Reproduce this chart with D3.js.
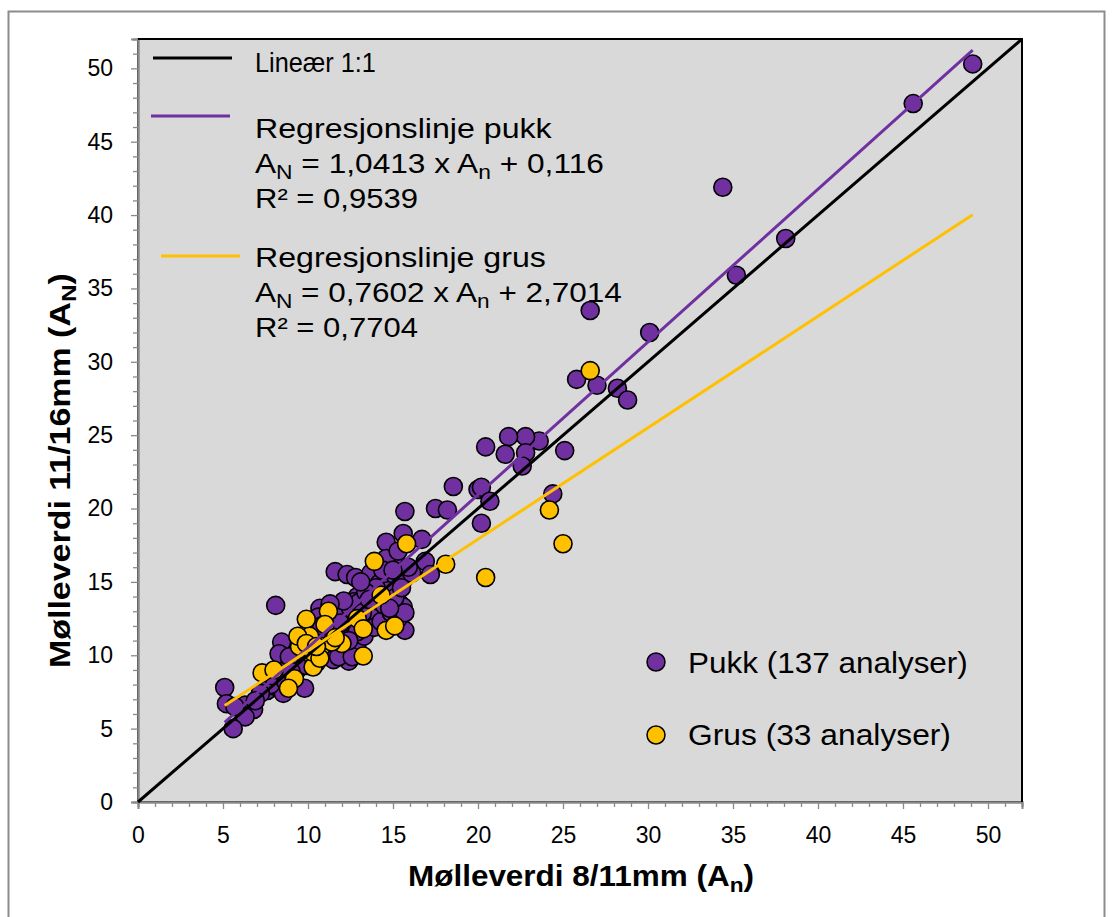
<!DOCTYPE html>
<html><head><meta charset="utf-8">
<script src="https://cdn.jsdelivr.net/npm/d3@7"></script>
<style>
html,body{margin:0;padding:0;background:#fff;}
svg{display:block;font-family:"Liberation Sans",Arial,sans-serif;}
</style></head>
<body>
<svg id="chart" width="1114" height="917"></svg>
<script>
// ---------- data ----------
const pukk = [
[49.1,50.3],[45.6,47.6],[34.4,41.9],[38.1,38.4],[35.2,35.9],[30.1,32.0],[26.6,33.5],
[25.8,28.8],[27.0,28.4],[28.2,28.2],[28.8,27.4],[25.1,23.95],[24.4,21.0],[23.6,24.6],
[22.8,24.9],[21.8,24.9],[20.45,24.2],[21.6,23.7],[22.8,23.8],[22.6,22.9],[18.55,21.5],
[20.0,21.3],[20.2,21.45],[20.7,20.5],[17.5,20.0],[18.2,19.9],[20.2,19.0],[16.7,17.9],
[16.9,16.4],[15.7,19.8],[14.6,17.7],[15.6,18.3],[17.2,15.5],[11.6,15.7],[12.3,15.5],
[12.8,15.3],[13.7,15.6],[15.2,16.3],[14.8,15.4],[15.6,15.1],[14.2,14.9],[15.2,14.2],
[13.6,14.0],[12.9,14.0],[11.9,13.3],[10.7,13.2],[15.4,13.5],[15.6,13.3],[14.0,13.3],
[13.25,13.1],[14.4,12.85],[15.7,11.7],[13.8,12.2],[12.5,10.6],[8.1,13.4],[8.45,10.9],
[8.3,10.1],[11.5,9.7],[12.4,9.6],[8.35,7.75],[9.8,7.75],[5.1,7.8],[5.2,6.7],[6.3,6.6],
[6.8,6.3],[6.3,5.8],[5.6,5.0],[7.6,7.6],[5.7,6.5],[8.0,7.9],[8.55,7.4],[9.3,8.9],
[12.7,13.65],[11.5,12.1],[8.5,8.9],[7.8,8.0],
[9.6,10.2],[10.0,11.0],[10.4,11.8],[10.6,12.6],[10.9,10.4],[11.2,11.4],[11.4,12.9],
[11.6,10.8],[11.8,11.9],[12.0,12.8],[12.2,10.2],[12.3,11.5],[12.5,13.2],[12.7,12.1],
[12.9,10.8],[13.0,13.6],[13.1,12.4],[13.3,11.3],[13.5,13.0],[13.7,12.6],[13.9,11.9],
[14.1,13.9],[14.3,12.3],[14.5,13.4],[14.7,14.4],[14.9,12.9],[15.1,13.9],[15.3,12.5],
[15.5,14.6],[15.7,12.9],[14.0,14.6],[13.4,14.3],[12.1,13.7],[11.3,13.5],[10.2,10.6],
[9.2,9.4],[8.9,9.9],[9.9,9.3],[10.5,9.5],[11.8,9.9],[12.6,9.9],[7.9,8.6],[7.2,7.4],
[8.7,8.2],[6.9,6.9],[9.0,8.9],[14.6,16.6],[15.3,17.1],[16.1,15.6],[13.2,12.9],[15.9,16.0],
[14.4,15.8],[13.1,15.0],[12.9,11.6],[10.8,12.0],[11.9,12.2],[13.6,13.8],[14.8,13.2],
[12.4,11.0],[9.7,10.8],[15.0,15.8]
];
const grus = [
[26.6,29.4],[24.2,19.9],[25.0,17.6],[20.45,15.3],[18.1,16.2],[15.8,17.6],[13.9,16.4],
[9.9,12.45],[11.2,13.0],[11.0,12.1],[12.9,12.5],[13.25,11.8],[14.6,11.7],[15.1,12.0],
[12.0,10.8],[13.25,9.95],[9.5,10.6],[10.3,9.9],[10.8,10.6],[10.1,11.3],[9.4,11.3],
[10.3,9.2],[7.3,8.8],[8.0,9.0],[9.2,8.4],[8.85,7.75],[10.3,10.2],[10.7,9.8],[11.4,10.9],
[9.9,10.8],[14.3,14.1],[11.6,11.2],[10.5,10.6]
];
const xTicks = [0,5,10,15,20,25,30,35,40,45,50];
const yTicks = [0,5,10,15,20,25,30,35,40,45,50];
const axisMax = 52;
const pukkFit = [1.0413, 0.116];   // slope, intercept
const grusFit = [0.7602, 2.7014];
const fitRange = [5.1, 49.1];
const legendLabels = ["Lineær 1:1","Regresjonslinje pukk","Regresjonslinje grus"];
const pointLabels = ["Pukk (137 analyser)","Grus (33 analyser)"];
const xTitle = "Mølleverdi 8/11mm (A", xSub = "n";
const yTitle = "Mølleverdi 11/16mm (A", ySub = "N";

// ---------- setup ----------
const PURPLE = "#7030a0", YELLOW = "#ffc000", GRID = "#898989";
const svg = d3.select("#chart");
const L = 138, R = 1022, T = 39, B = 802;
const x = d3.scaleLinear().domain([0, axisMax]).range([L, R]);
const y = d3.scaleLinear().domain([0, axisMax]).range([B, T]);

// outer frame
svg.append("rect").attr("x",8.5).attr("y",11.5).attr("width",1096).attr("height",940)
  .attr("fill","#fff").attr("stroke","#8c8c8c").attr("stroke-width",2);

// plot area
svg.append("rect").attr("x",L).attr("y",T).attr("width",R-L).attr("height",B-T)
  .attr("fill","#d9d9d9").attr("stroke","#000").attr("stroke-width",2);

// axes
const minor = d3.range(0, axisMax+1).filter(v => v % 5 !== 0 || v > 50);
function styleAxis(g){
  g.select(".domain").attr("stroke",GRID).attr("stroke-width",2);
  g.selectAll(".tick line").attr("stroke",GRID).attr("stroke-width",1.3);
  g.selectAll(".tick text").attr("fill","#000").attr("font-size",23)
    .attr("font-family","'Liberation Sans',Arial,sans-serif");
}
svg.append("g").attr("transform",`translate(0,${B})`)
  .call(d3.axisBottom(x).tickValues(minor).tickSize(5).tickFormat(""))
  .call(styleAxis);
svg.append("g").attr("transform",`translate(${L},0)`)
  .call(d3.axisLeft(y).tickValues(minor).tickSize(5).tickFormat(""))
  .call(styleAxis);
svg.append("g").attr("transform",`translate(0,${B})`)
  .call(d3.axisBottom(x).tickValues(xTicks).tickSize(7).tickPadding(18).tickFormat(d3.format("d")))
  .call(styleAxis);
svg.append("g").attr("transform",`translate(${L},0)`)
  .call(d3.axisLeft(y).tickValues(yTicks).tickSize(7).tickPadding(18).tickFormat(d3.format("d")))
  .call(styleAxis);
// black top/right border redraw
svg.append("path").attr("d",`M${L},${T}H${R}V${B}`).attr("fill","none").attr("stroke","#000").attr("stroke-width",2);

// points
function drawPoints(data, color){
  svg.append("g").selectAll("circle").data(data).join("circle")
    .attr("cx",d=>x(d[0])).attr("cy",d=>y(d[1])).attr("r",9)
    .attr("fill",color).attr("stroke","#000").attr("stroke-width",1.6);
}
drawPoints(pukk, PURPLE);
drawPoints(grus, YELLOW);

// lines
const line = d3.line().x(d=>x(d[0])).y(d=>y(d[1]));
svg.append("path").attr("d",line([[0,0],[axisMax,axisMax]])).attr("stroke","#000").attr("stroke-width",3).attr("fill","none");
function fitLine(f, color){
  const pts = fitRange.map(v=>[v, f[0]*v+f[1]]);
  svg.append("path").attr("d",line(pts)).attr("stroke",color).attr("stroke-width",3).attr("fill","none");
}
fitLine(pukkFit, PURPLE);
fitLine(grusFit, YELLOW);

// text helper: place text with baseline at (x0,y0), scaled horizontally to width w
function fitted(x0, y0, w, size, build, opts={}){
  const g = svg.append("g");
  const t = g.append("text").attr("font-size",size).attr("fill","#000")
    .attr("font-weight",opts.bold?"bold":null)
    .attr("text-anchor",opts.anchor||"start");
  build(t);
  const bw = t.node().getBBox().width;
  const k = w / bw;
  g.attr("transform",`translate(${x0},${y0})${opts.rotate?` rotate(${opts.rotate})`:""} scale(${k},1)`);
  return g;
}
function sub(t, main, s, rest){
  t.append("tspan").text(main);
  t.append("tspan").attr("font-size","0.72em").attr("dy",6).text(s);
  t.append("tspan").attr("dy",-6).text(rest||"");
}

// legend (lines)
const legLines = [[153,232,58,"#000"],[151,230,116,PURPLE],[161,240,256,YELLOW]];
legLines.forEach(l=>svg.append("line").attr("x1",l[0]).attr("x2",l[1]).attr("y1",l[2]).attr("y2",l[2])
  .attr("stroke",l[3]).attr("stroke-width",3));
fitted(255,72,121,28,t=>t.text(legendLabels[0]));
fitted(255,138,298,28,t=>t.text(legendLabels[1]));
fitted(255,173,349,28,t=>{sub(t,"A","N"," = "+d3.format(".4f")(pukkFit[0]).replace(".",",")+" x A");
  t.append("tspan").attr("font-size","0.72em").attr("dy",6).text("n");
  t.append("tspan").attr("dy",-6).text(" + "+String(pukkFit[1]).replace(".",","));});
fitted(255,208,163,28,t=>t.text("R² = 0,9539"));
fitted(255,267,291,28,t=>t.text(legendLabels[2]));
fitted(255,302,367,28,t=>{sub(t,"A","N"," = "+d3.format(".4f")(grusFit[0]).replace(".",",")+" x A");
  t.append("tspan").attr("font-size","0.72em").attr("dy",6).text("n");
  t.append("tspan").attr("dy",-6).text(" + "+String(grusFit[1]).replace(".",","));});
fitted(255,337,163,28,t=>t.text("R² = 0,7704"));

// legend (points)
[[662,PURPLE,673,280,0],[735,YELLOW,745,263,1]].forEach(r=>{
  svg.append("circle").attr("cx",656).attr("cy",r[0]).attr("r",9).attr("fill",r[1]).attr("stroke","#000").attr("stroke-width",1.5);
  fitted(688,r[2],r[3],29,t=>t.text(pointLabels[r[4]]));
});

// axis titles
fitted(408,886,346,29,t=>sub(t,xTitle,xSub,")"),{bold:true});
fitted(70,668,395,29,t=>sub(t,yTitle,ySub,")"),{bold:true,rotate:-90});
</script>
</body></html>
